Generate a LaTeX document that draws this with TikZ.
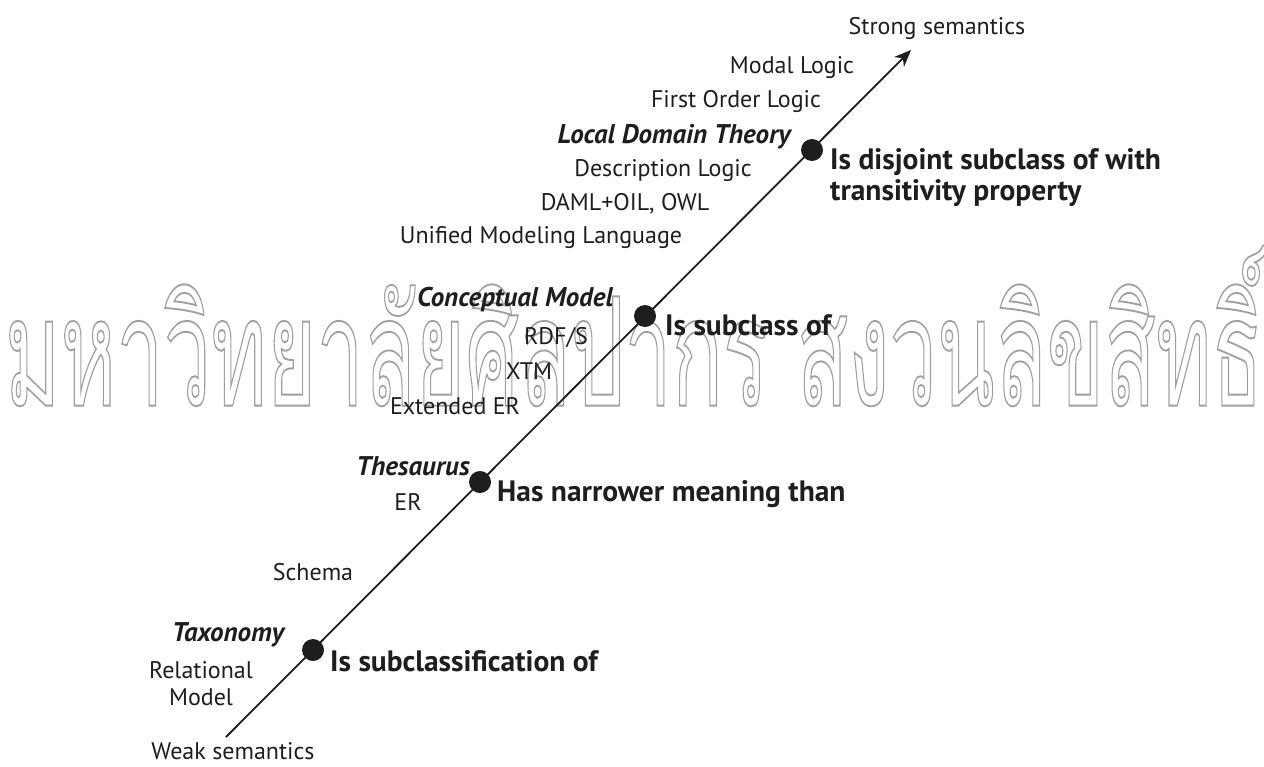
\documentclass[tikz,border=0pt]{standalone}
\usepackage{fontspec}
\setmainfont{PT Sans}
\newfontfamily\thaifont[Script=Thai]{Loma}
\usetikzlibrary{arrows.meta}

\definecolor{ink}{HTML}{1E1E1E}
\definecolor{stamp}{HTML}{A0A0A0}

% stroke the glyph outlines only (PDF text rendering mode 1)
\newcommand\hollowtext[1]{%
  \special{pdf:literal direct 1 Tr 0.5 w}#1\special{pdf:literal direct 0 Tr}}

\tikzset{
  lbl/.style={inner sep=0pt, text=ink, font=\fontsize{24}{27}\selectfont},
  head/.style={lbl, font=\fontsize{27}{30}\selectfont\bfseries\itshape},
  rel/.style={lbl, font=\fontsize{29.5}{31}\selectfont\bfseries, align=left},
  dot/.style={circle, fill=ink, inner sep=0pt, minimum size=22pt},
  axis/.style={draw=ink, line width=1.8pt, -{Stealth[length=17pt,width=14pt]}},
}

\begin{document}
\begin{tikzpicture}[x=1pt, y=-1pt]
  \useasboundingbox (0,0) rectangle (1264,766);

  % outlined lettering across the middle
  \node[inner sep=0pt, text=stamp] (wm) at (634,326)
    {\resizebox{1258pt}{160pt}{\thaifont\fontsize{40}{48}\selectfont
      \hollowtext{มหาวิทยาลัยศิลปากร สงวนลิขสิทธิ์}}};

  % semantic axis
  \coordinate (weak) at (226,737);
  \coordinate (strong) at (911,50);
  \draw[axis] (weak) -- (strong);

  \node[dot] (d1) at (313,650) {};
  \node[dot] (d2) at (480,482) {};
  \node[dot] (d3) at (645,316) {};
  \node[dot] (d4) at (812,150) {};

  % ends of the axis
  \node[lbl] (ws) at (233,751) {Weak semantics};
  \node[lbl] (ss) at (937,28) {Strong semantics};

  % levels
  \node[head] (tax) at (228,635) {Taxonomy};
  \node[head] (the) at (413,466) {Thesaurus};
  \node[head] (con) at (515,300) {Conceptual Model};
  \node[head] (ldt) at (674,137) {Local Domain Theory};

  % relations at each level
  \node[rel, anchor=west] (r1) at (330,661) {Is subclassification of};
  \node[rel, anchor=west] (r2) at (497,494) {Has narrower meaning than};
  \node[rel, anchor=west] (r3) at (665,325) {Is subclass of};
  \node[rel, anchor=north west] (r4) at (830,148) {Is disjoint subclass of with\\transitivity property};

  % languages and models
  \node[lbl, align=center] (rm) at (201,684) {Relational\\Model};
  \node[lbl] (sch) at (313,572) {Schema};
  \node[lbl] (er) at (408,502) {ER};
  \node[lbl] (eer) at (455,406) {Extended ER};
  \node[lbl] (xtm) at (529,371) {XTM};
  \node[lbl] (rdf) at (556,338) {RDF/S};
  \node[lbl] (uml) at (541,238) {Unified Modeling Language};
  \node[lbl] (daml) at (625,204) {DAML+OIL, OWL};
  \node[lbl] (dl) at (663,171) {Description Logic};
  \node[lbl] (fol) at (736,101) {First Order Logic};
  \node[lbl] (ml) at (792,68) {Modal Logic};
\end{tikzpicture}
\end{document}
